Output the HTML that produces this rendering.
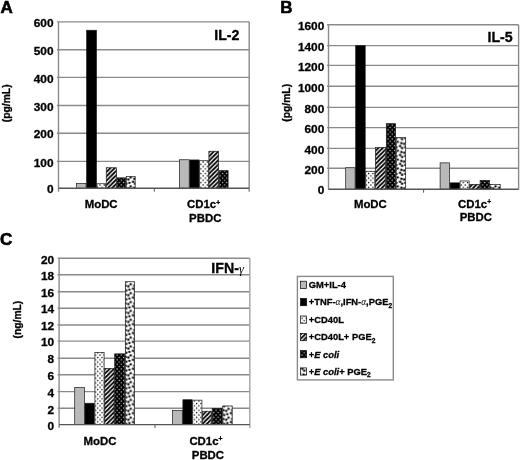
<!DOCTYPE html>
<html><head><meta charset="utf-8"><title>Cytokine production</title>
<style>
html,body{margin:0;padding:0;background:#fff;width:520px;height:460px;overflow:hidden}
svg{display:block;will-change:transform;filter:blur(0.3px)}
text{font-family:"Liberation Sans", sans-serif;font-weight:bold;fill:#000;stroke:#000;stroke-width:0.3px}
.tl{font-size:11.2px}
.pl{font-size:17px;stroke-width:0.6px}
.tt{font-size:14.2px}
.yt{font-size:10.3px}
.xl{font-size:11.4px}
.sup{font-size:6.8px}
.lg{font-size:9.35px}
.sub{font-size:6.6px}
.sym{font-family:"Liberation Serif",serif;font-weight:normal;font-style:italic;stroke:none}
.syml{font-family:"Liberation Serif",serif;font-weight:normal;font-style:italic;stroke:none}
</style></head>
<body>
<svg width="520" height="460" viewBox="0 0 520 460">

<defs>
<pattern id="pSmall" patternUnits="userSpaceOnUse" width="4.3" height="4.6">
  <rect width="4.3" height="4.6" fill="#fff"/>
  <circle cx="1" cy="1" r="0.75" fill="#000"/>
  <circle cx="3.15" cy="3.3" r="0.75" fill="#000"/>
</pattern>
<pattern id="pCheck" patternUnits="userSpaceOnUse" width="4.3" height="4.6">
  <rect width="4.3" height="4.6" fill="#000"/>
  <circle cx="1" cy="1" r="0.7" fill="#ddd"/>
  <circle cx="3.15" cy="3.3" r="0.7" fill="#ddd"/>
</pattern>
<pattern id="pHatch" patternUnits="userSpaceOnUse" width="4.35" height="4.35">
  <rect width="4.35" height="4.35" fill="#fff"/>
  <path d="M-1.1,1.1 L1.1,-1.1 M0,4.35 L4.35,0 M3.25,5.45 L5.45,3.25" stroke="#000" stroke-width="1.75"/>
</pattern>
<pattern id="pBig" patternUnits="userSpaceOnUse" width="8.9" height="8.9">
  <rect width="8.9" height="8.9" fill="#fff"/>
  <circle cx="0.90" cy="0.70" r="1.2" fill="#000"/>
  <circle cx="0.90" cy="9.60" r="1.2" fill="#000"/>
  <circle cx="9.80" cy="0.70" r="1.2" fill="#000"/>
  <circle cx="9.80" cy="9.60" r="1.2" fill="#000"/>
  <circle cx="3.70" cy="1.50" r="1.2" fill="#000"/>
  <circle cx="-0.40" cy="3.70" r="1.2" fill="#000"/>
  <circle cx="8.50" cy="3.70" r="1.2" fill="#000"/>
  <circle cx="4.80" cy="4.80" r="1.2" fill="#000"/>
  <circle cx="1.60" cy="5.70" r="1.2" fill="#000"/>
  <circle cx="6.10" cy="-0.60" r="1.2" fill="#000"/>
  <circle cx="6.10" cy="8.30" r="1.2" fill="#000"/>
</pattern>
</defs>

<line x1="57" y1="161.4" x2="249.2" y2="161.4" stroke="#8a8a8a" stroke-width="1.4"/>
<line x1="57" y1="133.2" x2="249.2" y2="133.2" stroke="#8a8a8a" stroke-width="1.4"/>
<line x1="57" y1="105.5" x2="249.2" y2="105.5" stroke="#8a8a8a" stroke-width="1.4"/>
<line x1="57" y1="77.4" x2="249.2" y2="77.4" stroke="#8a8a8a" stroke-width="1.4"/>
<line x1="57" y1="49.7" x2="249.2" y2="49.7" stroke="#8a8a8a" stroke-width="1.4"/>
<line x1="57" y1="21.85" x2="249.2" y2="21.85" stroke="#8a8a8a" stroke-width="1.4"/>
<text transform="translate(53.5,193.4) scale(1.06,1)" text-anchor="end" class="tl">0</text>
<text transform="translate(53.5,166.6) scale(1.06,1)" text-anchor="end" class="tl">100</text>
<text transform="translate(53.5,138.4) scale(1.06,1)" text-anchor="end" class="tl">200</text>
<text transform="translate(53.5,110.7) scale(1.06,1)" text-anchor="end" class="tl">300</text>
<text transform="translate(53.5,82.6) scale(1.06,1)" text-anchor="end" class="tl">400</text>
<text transform="translate(53.5,54.9) scale(1.06,1)" text-anchor="end" class="tl">500</text>
<text transform="translate(53.5,27.05) scale(1.06,1)" text-anchor="end" class="tl">600</text>
<rect x="76.45" y="183.35" width="9.6" height="4.85" fill="#b9b9b9" stroke="#1a1a1a" stroke-width="0.7"/>
<rect x="86.65" y="30.25" width="9.8" height="157.95" fill="#000" stroke="#1a1a1a" stroke-width="0.7"/>
<rect x="97.05" y="183.75" width="8.6" height="4.45" fill="url(#pSmall)" stroke="#1a1a1a" stroke-width="0.7"/>
<rect x="106.25" y="167.75" width="10.25" height="20.45" fill="url(#pHatch)" stroke="#1a1a1a" stroke-width="0.7"/>
<rect x="117.1" y="177.85" width="8.6" height="10.35" fill="url(#pCheck)" stroke="#1a1a1a" stroke-width="0.7"/>
<rect x="126.3" y="176.35" width="8.9" height="11.85" fill="url(#pBig)" stroke="#1a1a1a" stroke-width="0.7"/>
<rect x="179.5" y="159.75" width="9.7" height="28.45" fill="#b9b9b9" stroke="#1a1a1a" stroke-width="0.7"/>
<rect x="189.8" y="159.95" width="9.3" height="28.25" fill="#000" stroke="#1a1a1a" stroke-width="0.7"/>
<rect x="199.7" y="160.75" width="8.6" height="27.45" fill="url(#pSmall)" stroke="#1a1a1a" stroke-width="0.7"/>
<rect x="208.9" y="151.25" width="9.7" height="36.95" fill="url(#pHatch)" stroke="#1a1a1a" stroke-width="0.7"/>
<rect x="219.2" y="170.65" width="8.9" height="17.55" fill="url(#pCheck)" stroke="#1a1a1a" stroke-width="0.7"/>
<line x1="58.5" y1="21.85" x2="58.5" y2="191.7" stroke="#8a8a8a" stroke-width="1.4"/>
<line x1="249.2" y1="21.85" x2="249.2" y2="191.7" stroke="#8a8a8a" stroke-width="1.4"/>
<line x1="58.5" y1="188.2" x2="249.2" y2="188.2" stroke="#555" stroke-width="1.4"/>
<line x1="154.3" y1="188.2" x2="154.3" y2="191.7" stroke="#555" stroke-width="1"/>
<line x1="327" y1="168.3" x2="518.6" y2="168.3" stroke="#8a8a8a" stroke-width="1.4"/>
<line x1="327" y1="148.4" x2="518.6" y2="148.4" stroke="#8a8a8a" stroke-width="1.4"/>
<line x1="327" y1="127.65" x2="518.6" y2="127.65" stroke="#8a8a8a" stroke-width="1.4"/>
<line x1="327" y1="107.4" x2="518.6" y2="107.4" stroke="#8a8a8a" stroke-width="1.4"/>
<line x1="327" y1="86.3" x2="518.6" y2="86.3" stroke="#8a8a8a" stroke-width="1.4"/>
<line x1="327" y1="65.4" x2="518.6" y2="65.4" stroke="#8a8a8a" stroke-width="1.4"/>
<line x1="327" y1="45.65" x2="518.6" y2="45.65" stroke="#8a8a8a" stroke-width="1.4"/>
<line x1="327" y1="24.8" x2="518.6" y2="24.8" stroke="#8a8a8a" stroke-width="1.4"/>
<text transform="translate(324.3,194.4) scale(1.06,1)" text-anchor="end" class="tl">0</text>
<text transform="translate(324.3,173.5) scale(1.06,1)" text-anchor="end" class="tl">200</text>
<text transform="translate(324.3,153.6) scale(1.06,1)" text-anchor="end" class="tl">400</text>
<text transform="translate(324.3,132.85) scale(1.06,1)" text-anchor="end" class="tl">600</text>
<text transform="translate(324.3,112.6) scale(1.06,1)" text-anchor="end" class="tl">800</text>
<text transform="translate(324.3,91.5) scale(1.06,1)" text-anchor="end" class="tl">1000</text>
<text transform="translate(324.3,70.6) scale(1.06,1)" text-anchor="end" class="tl">1200</text>
<text transform="translate(324.3,50.85) scale(1.06,1)" text-anchor="end" class="tl">1400</text>
<text transform="translate(324.3,30) scale(1.06,1)" text-anchor="end" class="tl">1600</text>
<rect x="345.7" y="167.75" width="9.4" height="21.45" fill="#b9b9b9" stroke="#1a1a1a" stroke-width="0.7"/>
<rect x="355.7" y="45.65" width="9.5" height="143.55" fill="#000" stroke="#1a1a1a" stroke-width="0.7"/>
<rect x="365.8" y="171.25" width="9" height="17.95" fill="url(#pSmall)" stroke="#1a1a1a" stroke-width="0.7"/>
<rect x="375.4" y="147.55" width="10.3" height="41.65" fill="url(#pHatch)" stroke="#1a1a1a" stroke-width="0.7"/>
<rect x="386.3" y="123.65" width="9.3" height="65.55" fill="url(#pCheck)" stroke="#1a1a1a" stroke-width="0.7"/>
<rect x="396.2" y="137.65" width="9.5" height="51.55" fill="url(#pBig)" stroke="#1a1a1a" stroke-width="0.7"/>
<rect x="440.1" y="162.85" width="9.4" height="26.35" fill="#b9b9b9" stroke="#1a1a1a" stroke-width="0.7"/>
<rect x="450.1" y="182.85" width="9.4" height="6.35" fill="#000" stroke="#1a1a1a" stroke-width="0.7"/>
<rect x="460.1" y="180.95" width="9" height="8.25" fill="url(#pSmall)" stroke="#1a1a1a" stroke-width="0.7"/>
<rect x="469.7" y="184.35" width="9.8" height="4.85" fill="url(#pHatch)" stroke="#1a1a1a" stroke-width="0.7"/>
<rect x="480.1" y="180.35" width="9.4" height="8.85" fill="url(#pCheck)" stroke="#1a1a1a" stroke-width="0.7"/>
<rect x="490.1" y="184.35" width="10.1" height="4.85" fill="url(#pBig)" stroke="#1a1a1a" stroke-width="0.7"/>
<line x1="328.5" y1="24.8" x2="328.5" y2="189.7" stroke="#8a8a8a" stroke-width="1.4"/>
<line x1="518.6" y1="24.8" x2="518.6" y2="189.7" stroke="#8a8a8a" stroke-width="1.4"/>
<line x1="328.5" y1="189.2" x2="518.6" y2="189.2" stroke="#555" stroke-width="1.4"/>
<line x1="423.6" y1="189.2" x2="423.6" y2="192.7" stroke="#555" stroke-width="1"/>
<line x1="57.6" y1="408.3" x2="249.8" y2="408.3" stroke="#8a8a8a" stroke-width="1.4"/>
<line x1="57.6" y1="391.6" x2="249.8" y2="391.6" stroke="#8a8a8a" stroke-width="1.4"/>
<line x1="57.6" y1="374.8" x2="249.8" y2="374.8" stroke="#8a8a8a" stroke-width="1.4"/>
<line x1="57.6" y1="358.2" x2="249.8" y2="358.2" stroke="#8a8a8a" stroke-width="1.4"/>
<line x1="57.6" y1="341.1" x2="249.8" y2="341.1" stroke="#8a8a8a" stroke-width="1.4"/>
<line x1="57.6" y1="325" x2="249.8" y2="325" stroke="#8a8a8a" stroke-width="1.4"/>
<line x1="57.6" y1="308.2" x2="249.8" y2="308.2" stroke="#8a8a8a" stroke-width="1.4"/>
<line x1="57.6" y1="291.7" x2="249.8" y2="291.7" stroke="#8a8a8a" stroke-width="1.4"/>
<line x1="57.6" y1="274.8" x2="249.8" y2="274.8" stroke="#8a8a8a" stroke-width="1.4"/>
<line x1="57.6" y1="258.3" x2="249.8" y2="258.3" stroke="#8a8a8a" stroke-width="1.4"/>
<text transform="translate(54.2,429.8) scale(1.06,1)" text-anchor="end" class="tl">0</text>
<text transform="translate(54.2,413.5) scale(1.06,1)" text-anchor="end" class="tl">2</text>
<text transform="translate(54.2,396.8) scale(1.06,1)" text-anchor="end" class="tl">4</text>
<text transform="translate(54.2,380) scale(1.06,1)" text-anchor="end" class="tl">6</text>
<text transform="translate(54.2,363.4) scale(1.06,1)" text-anchor="end" class="tl">8</text>
<text transform="translate(54.2,346.3) scale(1.06,1)" text-anchor="end" class="tl">10</text>
<text transform="translate(54.2,330.2) scale(1.06,1)" text-anchor="end" class="tl">12</text>
<text transform="translate(54.2,313.4) scale(1.06,1)" text-anchor="end" class="tl">14</text>
<text transform="translate(54.2,296.9) scale(1.06,1)" text-anchor="end" class="tl">16</text>
<text transform="translate(54.2,280) scale(1.06,1)" text-anchor="end" class="tl">18</text>
<text transform="translate(54.2,263.5) scale(1.06,1)" text-anchor="end" class="tl">20</text>
<rect x="74.7" y="387.45" width="9.7" height="37.15" fill="#b9b9b9" stroke="#1a1a1a" stroke-width="0.7"/>
<rect x="85" y="403.25" width="9.3" height="21.35" fill="#000" stroke="#1a1a1a" stroke-width="0.7"/>
<rect x="94.9" y="352.35" width="9.2" height="72.25" fill="url(#pSmall)" stroke="#1a1a1a" stroke-width="0.7"/>
<rect x="104.7" y="368.35" width="9.4" height="56.25" fill="url(#pHatch)" stroke="#1a1a1a" stroke-width="0.7"/>
<rect x="114.7" y="353.85" width="10" height="70.75" fill="url(#pCheck)" stroke="#1a1a1a" stroke-width="0.7"/>
<rect x="125.3" y="281.75" width="9.1" height="142.85" fill="url(#pBig)" stroke="#1a1a1a" stroke-width="0.7"/>
<rect x="172.5" y="410.55" width="9.8" height="14.05" fill="#b9b9b9" stroke="#1a1a1a" stroke-width="0.7"/>
<rect x="182.9" y="399.75" width="9.2" height="24.85" fill="#000" stroke="#1a1a1a" stroke-width="0.7"/>
<rect x="192.7" y="400.15" width="9.2" height="24.45" fill="url(#pSmall)" stroke="#1a1a1a" stroke-width="0.7"/>
<rect x="202.5" y="411.25" width="9.1" height="13.35" fill="url(#pHatch)" stroke="#1a1a1a" stroke-width="0.7"/>
<rect x="212.2" y="408.35" width="9.9" height="16.25" fill="url(#pCheck)" stroke="#1a1a1a" stroke-width="0.7"/>
<rect x="222.7" y="405.95" width="9.5" height="18.65" fill="url(#pBig)" stroke="#1a1a1a" stroke-width="0.7"/>
<line x1="59.1" y1="258.3" x2="59.1" y2="428.1" stroke="#8a8a8a" stroke-width="1.4"/>
<line x1="249.8" y1="258.3" x2="249.8" y2="428.1" stroke="#a4a4a4" stroke-width="1.4"/>
<line x1="59.1" y1="424.6" x2="249.8" y2="424.6" stroke="#555" stroke-width="1.4"/>
<line x1="155" y1="424.6" x2="155" y2="428.1" stroke="#555" stroke-width="1"/>
<text x="0.4" y="13.3" class="pl">A</text>
<text x="280.2" y="13.2" class="pl">B</text>
<text x="0.1" y="244.6" class="pl">C</text>
<text x="214.2" y="40" class="tt">IL-2</text>
<text x="487.5" y="41.7" class="tt">IL-5</text>
<text x="211.3" y="272.6" class="tt">IFN-<tspan class="sym" font-size="12.5px">γ</tspan></text>
<text transform="translate(10.4,103.3) rotate(-90)" text-anchor="middle" class="yt">(pg/mL)</text>
<text transform="translate(290.3,102.8) rotate(-90)" text-anchor="middle" class="yt">(pg/mL)</text>
<text transform="translate(21.3,319.6) rotate(-90)" text-anchor="middle" class="yt">(ng/mL)</text>
<text x="84.7" y="207.9" class="xl">MoDC</text>
<text x="187" y="208.3" class="xl">CD1c<tspan class="sup" dy="-3.6">+</tspan></text>
<text x="189.1" y="221.7" class="xl">PBDC</text>
<text x="353.9" y="207.9" class="xl">MoDC</text>
<text x="458" y="207.9" class="xl">CD1c<tspan class="sup" dy="-3.6">+</tspan></text>
<text x="459.7" y="221.3" class="xl">PBDC</text>
<text x="83.6" y="445" class="xl">MoDC</text>
<text x="189.4" y="444.8" class="xl">CD1c<tspan class="sup" dy="-3.6">+</tspan></text>
<text x="191.8" y="458.6" class="xl">PBDC</text>
<rect x="297.4" y="276.4" width="95.9" height="103.5" fill="none" stroke="#8a8a8a" stroke-width="1.4"/>
<rect x="300.6" y="281.2" width="6" height="7.2" fill="#b9b9b9" stroke="#000" stroke-width="0.7"/>
<text x="308.8" y="288.1" class="lg">GM+IL-4</text>
<rect x="300.6" y="298.5" width="6" height="7.2" fill="#000" stroke="#000" stroke-width="0.7"/>
<text x="308.8" y="305.4" class="lg">+TNF-<tspan class="syml">α</tspan>,IFN-<tspan class="syml">α</tspan>,PGE<tspan class="sub" dy="2.5">2</tspan></text>
<rect x="300.6" y="316" width="6" height="7.2" fill="url(#pSmall)" stroke="#000" stroke-width="0.7"/>
<text x="308.8" y="322.9" class="lg">+CD40L</text>
<rect x="300.6" y="333.5" width="6" height="7.2" fill="url(#pHatch)" stroke="#000" stroke-width="0.7"/>
<text x="308.8" y="340.4" class="lg">+CD40L+ PGE<tspan class="sub" dy="2.5">2</tspan></text>
<rect x="300.6" y="350.6" width="6" height="7.2" fill="url(#pCheck)" stroke="#000" stroke-width="0.7"/>
<text x="308.8" y="357.5" class="lg">+<tspan font-style="italic">E coli</tspan></text>
<rect x="300.6" y="367.9" width="6" height="7.2" fill="url(#pBig)" stroke="#000" stroke-width="0.7"/>
<text x="308.8" y="374.8" class="lg">+<tspan font-style="italic">E coli</tspan>+ PGE<tspan class="sub" dy="2.5">2</tspan></text>
</svg>
</body></html>
